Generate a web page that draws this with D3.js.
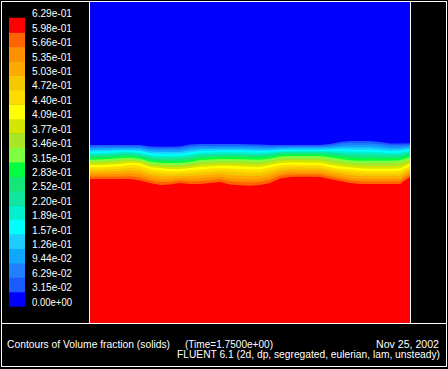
<!DOCTYPE html>
<html><head><meta charset="utf-8">
<script src="https://cdn.jsdelivr.net/npm/d3@7"></script>
<style>html,body{margin:0;padding:0;background:#000;}svg{display:block;}</style>
</head><body>
<svg id="chart" width="448" height="369"></svg>
<script>
// Legend tick labels (contour levels, bottom to top)
const levelValues = [0, 0.0315, 0.0629, 0.0944, 0.126, 0.157, 0.189, 0.220, 0.252, 0.283, 0.315, 0.346, 0.377, 0.409, 0.440, 0.472, 0.503, 0.535, 0.566, 0.598, 0.629];
const levelLabels = ["0.00e+00","3.15e-02","6.29e-02","9.44e-02","1.26e-01","1.57e-01","1.89e-01","2.20e-01","2.52e-01","2.83e-01","3.15e-01","3.46e-01","3.77e-01","4.09e-01","4.40e-01","4.72e-01","5.03e-01","5.35e-01","5.66e-01","5.98e-01","6.29e-01"];
// Band colours, lowest band first
const bandColors = ["#0000ff","#1a5cff","#2080ff","#10a8ff","#1ecdff","#00ffff","#00f0d0","#10e6a0","#14e678","#00ff40","#80ff40","#a8e628","#d2e600","#ffff00","#ffdc00","#f5c800","#ffaa00","#ff9000","#ff6400","#ff0000"];

// Bed geometry (cm) and stations across the bed
const bedWidth = 32, bedHeight = 32.1;
const xStations = [0,1,2,3,4,5,6,7,8,9,10,11,12,13,14,15,16,17,18,19,20,21,22,23,24,25,26,27,28,29,30,31,32];
// Height (cm) of selected contour lines at each station
const anchorLevels = [0.0315, 0.30, 0.425, 0.598];
const hLevel0315 = [17.8,17.8,17.8,17.8,17.8,17.8,17.65,17.63,17.63,17.65,17.85,17.9,17.9,17.9,17.9,17.9,17.87,17.85,17.8,17.8,17.8,17.8,17.8,17.8,17.9,18.1,18.2,18.2,18.2,18.1,17.95,17.95,17.97];
const hLevel300 = [16.4,16.45,16.5,16.6,16.6,16.5,16.2,16.1,16.1,16.1,16.2,16.4,16.45,16.5,16.5,16.5,16.47,16.45,16.55,16.75,16.8,16.8,16.8,16.8,16.7,16.55,16.4,16.35,16.35,16.35,16.35,16.4,16.7];
const hLevel425 = [15.7,15.7,15.75,15.8,15.95,15.9,15.5,15.4,15.3,15.3,15.4,15.5,15.55,15.6,15.6,15.55,15.5,15.5,15.7,15.9,15.95,15.95,15.9,15.9,15.7,15.55,15.45,15.35,15.3,15.3,15.3,15.35,15.8];
const hLevel598 = [14.4,14.4,14.4,14.4,14.4,14.25,14.0,13.8,13.85,14.0,13.9,13.9,14.0,14.1,13.85,13.77,13.73,13.8,14.0,14.45,14.6,14.63,14.63,14.6,14.4,14.2,14.0,13.9,13.9,13.9,13.9,13.9,14.6];

const svg = d3.select("#chart");
const W = 448, H = 369;
svg.append("rect").attr("width", W).attr("height", H).attr("fill", "#000");

const plot = {x0: 90, x1: 410, y0: 2, y1: 323};
const xScale = d3.scaleLinear().domain([0, bedWidth]).range([plot.x0, plot.x1]);
const yScale = d3.scaleLinear().domain([0, bedHeight]).range([plot.y1, plot.y0]);

svg.append("clipPath").attr("id", "plotclip").append("rect")
  .attr("x", plot.x0).attr("y", plot.y0).attr("width", plot.x1 - plot.x0).attr("height", plot.y1 - plot.y0);
const g = svg.append("g").attr("clip-path", "url(#plotclip)");

// Per-station height of any level value
const stationScales = xStations.map((x, i) =>
  d3.scaleLinear().domain(anchorLevels).range([hLevel0315[i], hLevel300[i], hLevel425[i], hLevel598[i]]));

// Paint each band from its upper boundary down to the floor, lowest value first
bandColors.forEach((col, k) => {
  const v = levelValues[k];
  const area = d3.area()
    .x((d, i) => xScale(xStations[i]))
    .y0(() => yScale(0))
    .y1((d, i) => k === 0 ? yScale(bedHeight) : yScale(stationScales[i](v)))
    .curve(d3.curveLinear);
  g.append("path").datum(xStations).attr("d", area).attr("fill", col);
});

// Legend colour bar
const legTop = 17.8, legStep = 14.42;
const legScale = d3.scaleLinear().domain([levelValues.length - 1, 0]).range([legTop, legTop + legStep * (levelValues.length - 1)]);
bandColors.forEach((col, k) => {
  svg.append("rect").attr("x", 9).attr("width", 16)
    .attr("y", legScale(k + 1)).attr("height", legScale(k) - legScale(k + 1) + 0.5)
    .attr("fill", col);
});
levelLabels.forEach((lab, j) => {
  svg.append("text").attr("x", 32).attr("y", legScale(j) - 0.5)
    .attr("fill", "#fff").attr("font-family", "Liberation Sans, Arial, sans-serif")
    .attr("font-size", 10).attr("textLength", 40).attr("lengthAdjust", "spacingAndGlyphs")
    .text(lab);
});

// Frame lines
const white = "#fff";
svg.append("rect").attr("x", 1.5).attr("y", 1.5).attr("width", 445).attr("height", 365)
  .attr("fill", "none").attr("stroke", white).attr("stroke-width", 1);
svg.append("line").attr("x1", 1).attr("x2", 447).attr("y1", 323.5).attr("y2", 323.5).attr("stroke", white);
svg.append("line").attr("x1", 89.5).attr("x2", 89.5).attr("y1", 1).attr("y2", 323).attr("stroke", white);
svg.append("line").attr("x1", 410.5).attr("x2", 410.5).attr("y1", 1).attr("y2", 323).attr("stroke", white);

// Caption
const font = "Liberation Sans, Arial, sans-serif";
function txt(x, y, s, len, anchor) {
  svg.append("text").attr("x", x).attr("y", y).attr("fill", "#fff")
    .attr("font-family", font).attr("font-size", 10)
    .attr("textLength", len).attr("lengthAdjust", "spacingAndGlyphs")
    .attr("text-anchor", anchor || "start").text(s);
}
txt(7, 348, "Contours of Volume fraction (solids)", 163);
txt(185, 348, "(Time=1.7500e+00)", 88);
txt(376, 348, "Nov 25, 2002", 63);
txt(177, 357.5, "FLUENT 6.1 (2d, dp, segregated, eulerian, lam, unsteady)", 263);
</script>
</body></html>
